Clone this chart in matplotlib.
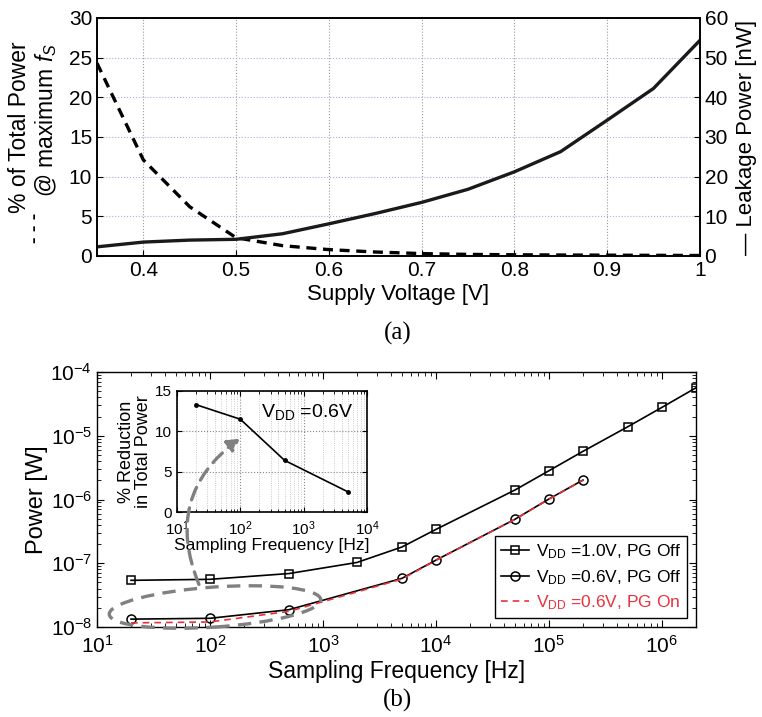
import matplotlib.pyplot as plt
from matplotlib.patches import Ellipse, FancyArrowPatch

plt.rcParams['font.family'] = ['Liberation Sans', 'DejaVu Sans']
plt.rcParams['mathtext.fontset'] = 'custom'
plt.rcParams['mathtext.rm'] = 'Liberation Sans'
plt.rcParams['mathtext.it'] = 'Liberation Sans:italic'

# (a) leakage vs supply voltage
vdd = [0.35, 0.40, 0.45, 0.50, 0.55, 0.60, 0.65, 0.70, 0.75, 0.80, 0.85, 0.90, 0.95, 1.00]
pct_total = [24.3, 12.1, 6.2, 2.3, 1.3, 0.8, 0.5, 0.3, 0.2, 0.15, 0.12, 0.1, 0.08, 0.06]
leak_nw = [2.3, 3.5, 4.0, 4.2, 5.6, 8.1, 10.7, 13.5, 16.8, 21.2, 26.3, 34.2, 42.2, 54.3]

# (b) power vs sampling frequency
fs_10 = [20, 100, 500, 2e3, 5e3, 1e4, 5e4, 1e5, 2e5, 5e5, 1e6, 2e6]
p_10 = [5.4e-8, 5.6e-8, 6.9e-8, 1.03e-7, 1.8e-7, 3.4e-7, 1.41e-6, 2.83e-6, 5.7e-6, 1.39e-5, 2.79e-5, 5.66e-5]
fs_06 = [20, 100, 500, 5e3, 1e4, 5e4, 1e5, 2e5]
p_06_off = [1.33e-8, 1.37e-8, 1.87e-8, 5.8e-8, 1.12e-7, 4.9e-7, 1.02e-6, 2.02e-6]
p_06_on = [1.16e-8, 1.2e-8, 1.76e-8, 5.65e-8, 1.11e-7, 4.88e-7, 1.01e-6, 2.01e-6]

# inset: reduction
fs_red = [20, 100, 500, 5e3]
reduction = [13.3, 11.5, 6.4, 2.5]

RED = '#e8323c'

fig = plt.figure(figsize=(7.62, 7.17), dpi=100)

# ---- top panel ----
ax1 = fig.add_axes([0.1273, 0.643, 0.791, 0.332])
ax1.plot(vdd, pct_total, color='black', lw=2.4, ls=(0, (3.0, 2.0)))
ax1.set_xlim(0.35, 1.0)
ax1.set_ylim(0, 30)
ax1.set_xticks([0.4, 0.5, 0.6, 0.7, 0.8, 0.9, 1.0])
ax1.set_xticklabels(['0.4', '0.5', '0.6', '0.7', '0.8', '0.9', '1'])
ax1.set_yticks(range(0, 31, 5))
ax1.tick_params(direction='in', labelsize=15, length=4, top=False)
ax1.xaxis.grid(True, ls=':', color='#999999', lw=0.8)
ax1.yaxis.grid(True, ls=':', color='#aab0dd', lw=0.8)
ax1.set_xlabel('Supply Voltage [V]', fontsize=16, labelpad=3)

ax1r = ax1.twinx()
ax1r.plot(vdd, leak_nw, color='#1a1a1a', lw=2.4)
ax1r.set_ylim(0, 60)
ax1r.set_yticks(range(0, 61, 10))
ax1r.tick_params(direction='in', labelsize=15, length=4)
ax1r.set_ylabel('— Leakage Power [nW]', fontsize=16, labelpad=6)
for ax in (ax1, ax1r):
    for sp in ax.spines.values():
        sp.set_linewidth(1.2)

fig.text(0.025, 1 - 127 / 717, '% of Total Power', rotation=90, fontsize=16.5, ha='center', va='center')
fig.text(0.061, 1 - 120 / 717, '@ maximum $f_S$', rotation=90, fontsize=16.5, ha='center', va='center')
fig.text(0.046, 1 - 228 / 717, '- - -', rotation=90, fontsize=14, fontweight='bold', ha='center', va='center')
fig.text(0.522, 1 - 333 / 717, '(a)', fontsize=18, family='Liberation Serif', ha='center', va='center')

# ---- bottom panel ----
ax2 = fig.add_axes([0.1273, 0.1255, 0.786, 0.3556])
ax2.loglog(fs_10, p_10, color='black', lw=1.2, marker='s', ms=6, mfc='none', mew=1.1,
           label='V$_{\\rm DD}$ =1.0V, PG Off')
ax2.loglog(fs_06, p_06_off, color='black', lw=1.2, marker='o', ms=6.5, mfc='none', mew=1.1,
           label='V$_{\\rm DD}$ =0.6V, PG Off')
ax2.loglog(fs_06, p_06_on, color=RED, lw=1.2, ls=(0, (4, 3)),
           label='V$_{\\rm DD}$ =0.6V, PG On')
ax2.set_xlim(10, 2e6)
ax2.set_ylim(1e-8, 1e-4)
ax2.tick_params(which='both', direction='in', labelsize=15, top=True, right=True)
ax2.tick_params(axis='x', which='major', pad=6)
ax2.tick_params(which='major', length=5)
ax2.tick_params(which='minor', length=3)
ax2.set_xlabel('Sampling Frequency [Hz]', fontsize=16.5, labelpad=2)
ax2.set_ylabel('Power [W]', fontsize=17, labelpad=2)
leg = ax2.legend(loc='lower right', fontsize=12.5, frameon=True, fancybox=False,
                 edgecolor='black', framealpha=1, borderaxespad=0.5, handlelength=1.6,
                 handletextpad=0.4, labelspacing=0.4, borderpad=0.35)
leg.get_frame().set_linewidth(1.0)
leg.get_texts()[2].set_color(RED)
for sp in ax2.spines.values():
    sp.set_linewidth(1.0)
fig.text(0.522, 1 - 700 / 717, '(b)', fontsize=18, family='Liberation Serif', ha='center', va='center')

# ellipse + arrow linking to inset
ell = Ellipse((2.15, 1.10), 2.12, 0.40, angle=4, transform=fig.dpi_scale_trans,
              fill=False, ls=(0, (4, 2.5)), lw=2.4, ec='#808080', zorder=5)
fig.add_artist(ell)
arr = FancyArrowPatch((2.0, 1.30), (2.42, 2.80), transform=fig.dpi_scale_trans,
                      connectionstyle='arc3,rad=-0.4', arrowstyle='-|>,head_length=7,head_width=4',
                      ls=(0, (4, 2.5)), lw=2.4, color='#808080', zorder=5)
fig.add_artist(arr)

# ---- inset ----
ax3 = fig.add_axes([0.2323, 0.2859, 0.2493, 0.1688])
ax3.semilogx(fs_red, reduction, color='black', lw=1.2, marker='.', ms=5)
ax3.set_xlim(10, 1e4)
ax3.set_ylim(0, 15)
ax3.set_yticks([0, 5, 10, 15])
ax3.grid(True, which='major', ls=':', color='#888888', lw=0.8)
ax3.grid(True, which='minor', axis='x', ls=':', color='#bbbbbb', lw=0.6)
ax3.tick_params(which='both', direction='in', labelsize=11, top=True, right=True)
ax3.tick_params(axis='x', which='major', pad=5)
ax3.set_xlabel('Sampling Frequency [Hz]', fontsize=12.5, labelpad=0)
ax3.set_ylabel('% Reduction\nin Total Power', fontsize=13, labelpad=2, linespacing=1.0)
ax3.text(0.93, 0.83, 'V$_{\\rm DD}$ =0.6V', transform=ax3.transAxes, fontsize=14,
         ha='right', va='center')
for sp in ax3.spines.values():
    sp.set_linewidth(1.2)

fig.savefig('out.png', dpi=100)
